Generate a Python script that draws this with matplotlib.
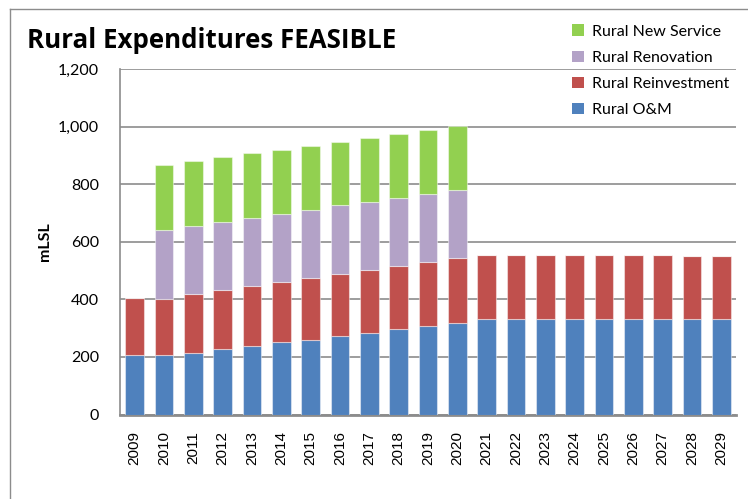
import numpy as np
import matplotlib
matplotlib.use('Agg')
import matplotlib.pyplot as plt
from matplotlib.lines import Line2D
from matplotlib.patches import Patch

years = [str(y) for y in range(2009, 2030)]
om = [205, 205, 214, 228, 237, 251, 260, 274, 282, 296, 306, 319,
      330, 330, 330, 330, 330, 330, 330, 330, 330]
reinvestment = [200, 195, 205, 205, 210, 210, 215, 214, 219, 219, 222, 223,
                225, 225, 225, 225, 225, 225, 225, 221, 221]
renovation = [0, 242, 237, 237, 237, 237, 237, 238, 237, 237, 237, 237,
              0, 0, 0, 0, 0, 0, 0, 0, 0]
new_service = [0, 224, 224, 223, 223, 222, 222, 222, 223, 223, 223, 223,
               0, 0, 0, 0, 0, 0, 0, 0, 0]

series = [
    ('Rural O&M', om, '#4F81BD'),
    ('Rural Reinvestment', reinvestment, '#C0504D'),
    ('Rural Renovation', renovation, '#B3A2C7'),
    ('Rural New Service', new_service, '#92D050'),
]

font = 'Lato'
fig = plt.figure(figsize=(7.48, 4.99), dpi=100)
ax = fig.add_axes([120/748, 1 - 414.5/499, 616/748, 345.5/499])

x = np.arange(len(years))
bottom = np.zeros(len(years))
for name, vals, color in series:
    vals = np.array(vals, dtype=float)
    ax.bar(x, vals, 0.63, bottom=bottom, color=color, edgecolor=(1, 1, 1, 0.45),
           linewidth=0.8, zorder=3)
    bottom += vals

ax.set_xlim(-0.5, len(years) - 0.5)
ax.set_ylim(0, 1200)
ax.set_yticks(range(0, 1201, 200))
ax.set_yticklabels(['{:,}'.format(v) for v in range(0, 1201, 200)],
                   family=font, fontsize=11.5)
ax.set_xticks(x)
ax.set_xticklabels(years, rotation=90, family='Liberation Sans', fontsize=11)
ax.tick_params(length=0, pad=15, axis='y')
ax.tick_params(length=0, pad=12, axis='x')
ax.yaxis.grid(True, color='#8c8c8c', linewidth=1.2, zorder=0)
ax.set_axisbelow(True)
for side in ['top', 'right']:
    ax.spines[side].set_visible(False)
ax.spines['left'].set_color('#8c8c8c')
ax.spines['left'].set_linewidth(1.2)
ax.spines['bottom'].set_color('#8c8c8c')
ax.spines['bottom'].set_linewidth(2)
ax.set_ylabel('mLSL', family=font, fontweight='bold', fontsize=11.5, labelpad=4)

fig.text(27/748, 1 - 48/499, 'Rural Expenditures FEASIBLE', family='Open Sans',
         fontweight='bold', fontsize=18.6, va='baseline', ha='left')

handles = [Patch(facecolor=c, edgecolor='none') for _, _, c in series][::-1]
labels = [n for n, _, _ in series][::-1]
fig.legend(handles, labels, loc='upper left', bbox_to_anchor=(558/748, 1 - 10/499),
           frameon=False, prop={'family': font, 'size': 11.5},
           handlelength=0.7, handleheight=0.7, handletextpad=0.5, labelspacing=0.75)

# outer chart frame
fig.add_artist(Line2D([10/748, 10/748], [0, 1 - 9/499], color='#8c8c8c', linewidth=1))
fig.add_artist(Line2D([10/748, 1], [1 - 9/499, 1 - 9/499], color='#8c8c8c', linewidth=1))

fig.savefig('out.png', dpi=100)
